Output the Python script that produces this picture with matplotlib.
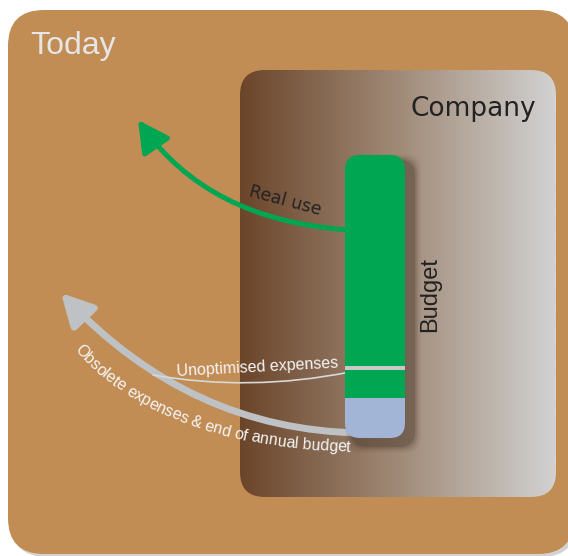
import numpy as np
import matplotlib
matplotlib.use("Agg")
import matplotlib.pyplot as plt
from matplotlib.patches import FancyBboxPatch, FancyArrowPatch, ArrowStyle
from matplotlib.path import Path
from matplotlib.colors import LinearSegmentedColormap
from matplotlib.font_manager import FontProperties, findfont, get_font

# ---- content ----
title_text = "Today"
company_text = "Company"
budget_text = "Budget"
segment_labels = ["Real use", "Unoptimised expenses", "Obsolete expenses & end of annual budget"]
segment_shares = [0.845, 0.014, 0.141]   # share of the budget bar, top to bottom
segment_colors = ["#00A651", "#C8C8C8", "#A3B5D6"]

W, H = 568, 556
fig = plt.figure(figsize=(W / 100, H / 100), dpi=100)
ax = fig.add_axes([0, 0, 1, 1])
ax.set_xlim(0, W)
ax.set_ylim(H, 0)
ax.axis("off")

# outer box with shadow
ax.add_patch(FancyBboxPatch((11, 13), 566, 544, boxstyle="round,pad=0,rounding_size=36",
                            fc="#a8a8a8", ec="none", alpha=0.5, zorder=0))
ax.add_patch(FancyBboxPatch((8, 10), 566, 544, boxstyle="round,pad=0,rounding_size=36",
                            fc="#C18D55", ec="none", zorder=1))

# company box with gradient
cx0, cy0, cw, ch = 240, 70, 316, 427
comp = FancyBboxPatch((cx0, cy0), cw, ch, boxstyle="round,pad=0,rounding_size=25",
                      fc="none", ec="none", zorder=2)
ax.add_patch(comp)
cmap = LinearSegmentedColormap.from_list("g", [(0, "#6B452A"), (0.5, "#A08A77"), (1, "#D2D2D2")])
grad = np.linspace(0, 1, 256)[None, :]
im = ax.imshow(grad, cmap=cmap, extent=(cx0, cx0 + cw, cy0 + ch, cy0), aspect="auto", zorder=2)
im.set_clip_path(comp)
ax.set_xlim(0, W)
ax.set_ylim(H, 0)

# arrows (behind bar)
def quad_path(p0, p1, p2):
    return Path([p0, p1, p2], [Path.MOVETO, Path.CURVE3, Path.CURVE3])

green_arrow = FancyArrowPatch(path=quad_path((350, 230), (208, 221), (138, 120)),
                              arrowstyle=ArrowStyle("-|>", head_length=1.9, head_width=1.0),
                              mutation_scale=10, lw=3.6, color="#00A651",
                              shrinkA=0, shrinkB=0, zorder=4)
ax.add_patch(green_arrow)
grey_arrow = FancyArrowPatch(path=quad_path((360, 433), (190, 430), (61, 293)),
                             arrowstyle=ArrowStyle("-|>", head_length=1.9, head_width=1.0),
                             mutation_scale=10, lw=5, color="#BEC2C4",
                             shrinkA=0, shrinkB=0, zorder=4)
ax.add_patch(grey_arrow)
# thin line for unoptimised
thin = FancyArrowPatch(path=quad_path((350, 372), (250, 392), (153, 375)),
                       arrowstyle="-", lw=1.2, color="#D8D8D8", shrinkA=0, shrinkB=0, zorder=4)
ax.add_patch(thin)

# budget bar shadow (soft)
bx, by, bw, bh = 345, 155, 60, 283
for grow, a in [(16, 0.04), (13, 0.06), (10, 0.09), (7, 0.13), (4, 0.2)]:
    ax.add_patch(FancyBboxPatch((bx + 8 - grow / 2, by + 7 - grow / 2), bw + grow, bh + grow,
                                boxstyle="round,pad=0,rounding_size=16",
                                fc="#3a2a1e", ec="none", alpha=a, zorder=5))
bar_clip = FancyBboxPatch((bx, by), bw, bh, boxstyle="round,pad=0,rounding_size=15",
                          fc="none", ec="none", zorder=6)
ax.add_patch(bar_clip)
# segments: stacked from top
top = by
for share, col in zip([segment_shares[0] - 0.1, segment_shares[1], 0.1, segment_shares[2]],
                      [segment_colors[0], segment_colors[1], segment_colors[0], segment_colors[2]]):
    h = share * bh
    r = ax.bar(bx + bw / 2, h, width=bw, bottom=top, color=col, zorder=6, linewidth=0)
    for p in r:
        p.set_clip_path(bar_clip)
    top += h

# texts
ax.text(30, 54, title_text, fontsize=23, color="#E6E6E6", family="Liberation Sans",
        ha="left", va="baseline", zorder=10)
ax.text(536, 116, company_text, fontsize=19, color="#222222", family="DejaVu Sans",
        ha="right", va="baseline", zorder=10)
ax.text(430, 295, budget_text, fontsize=17, color="#222222", family="Liberation Sans",
        rotation=90, ha="center", va="center", zorder=10)
ax.text(285, 201, segment_labels[0], fontsize=12.5, color="#222222", family="DejaVu Sans",
        rotation=-15, ha="center", va="center", rotation_mode="anchor", zorder=10)
ax.text(257, 367, segment_labels[1], fontsize=11.5, color="#F5F5F5", family="Liberation Sans",
        rotation=3, ha="center", va="center", rotation_mode="anchor", zorder=10)

# curved text
fs = 11.5
fp = FontProperties(family="Liberation Sans", size=fs)
font = get_font(findfont(fp))
font.set_size(fs, 100)
def adv(c):
    g = font.load_char(ord(c))
    return g.linearHoriAdvance / 65536.0

s = segment_labels[2]
advs = np.array([adv(c) for c in s])
P0, P1, P2 = np.array([74, 350]), np.array([158, 446]), np.array([352, 452])
t = np.linspace(0, 1, 2000)[:, None]
pts = (1 - t) ** 2 * P0 + 2 * (1 - t) * t * P1 + t ** 2 * P2
seg = np.hypot(*np.diff(pts, axis=0).T)
arc = np.concatenate([[0], np.cumsum(seg)])
centers = np.cumsum(advs) - advs / 2
centers *= min(1.0, (arc[-1] - 2) / advs.sum())
for c, sc in zip(s, centers):
    k = np.searchsorted(arc, sc)
    k = min(max(k, 1), len(pts) - 1)
    x, y = pts[k]
    dx, dy = pts[k] - pts[k - 1]
    ang = np.degrees(np.arctan2(-dy, dx))
    ax.text(x, y, c, fontproperties=fp, color="#F5F5F5", rotation=ang,
            rotation_mode="anchor", ha="center", va="baseline", zorder=10)

fig.savefig("out.png", dpi=100)
